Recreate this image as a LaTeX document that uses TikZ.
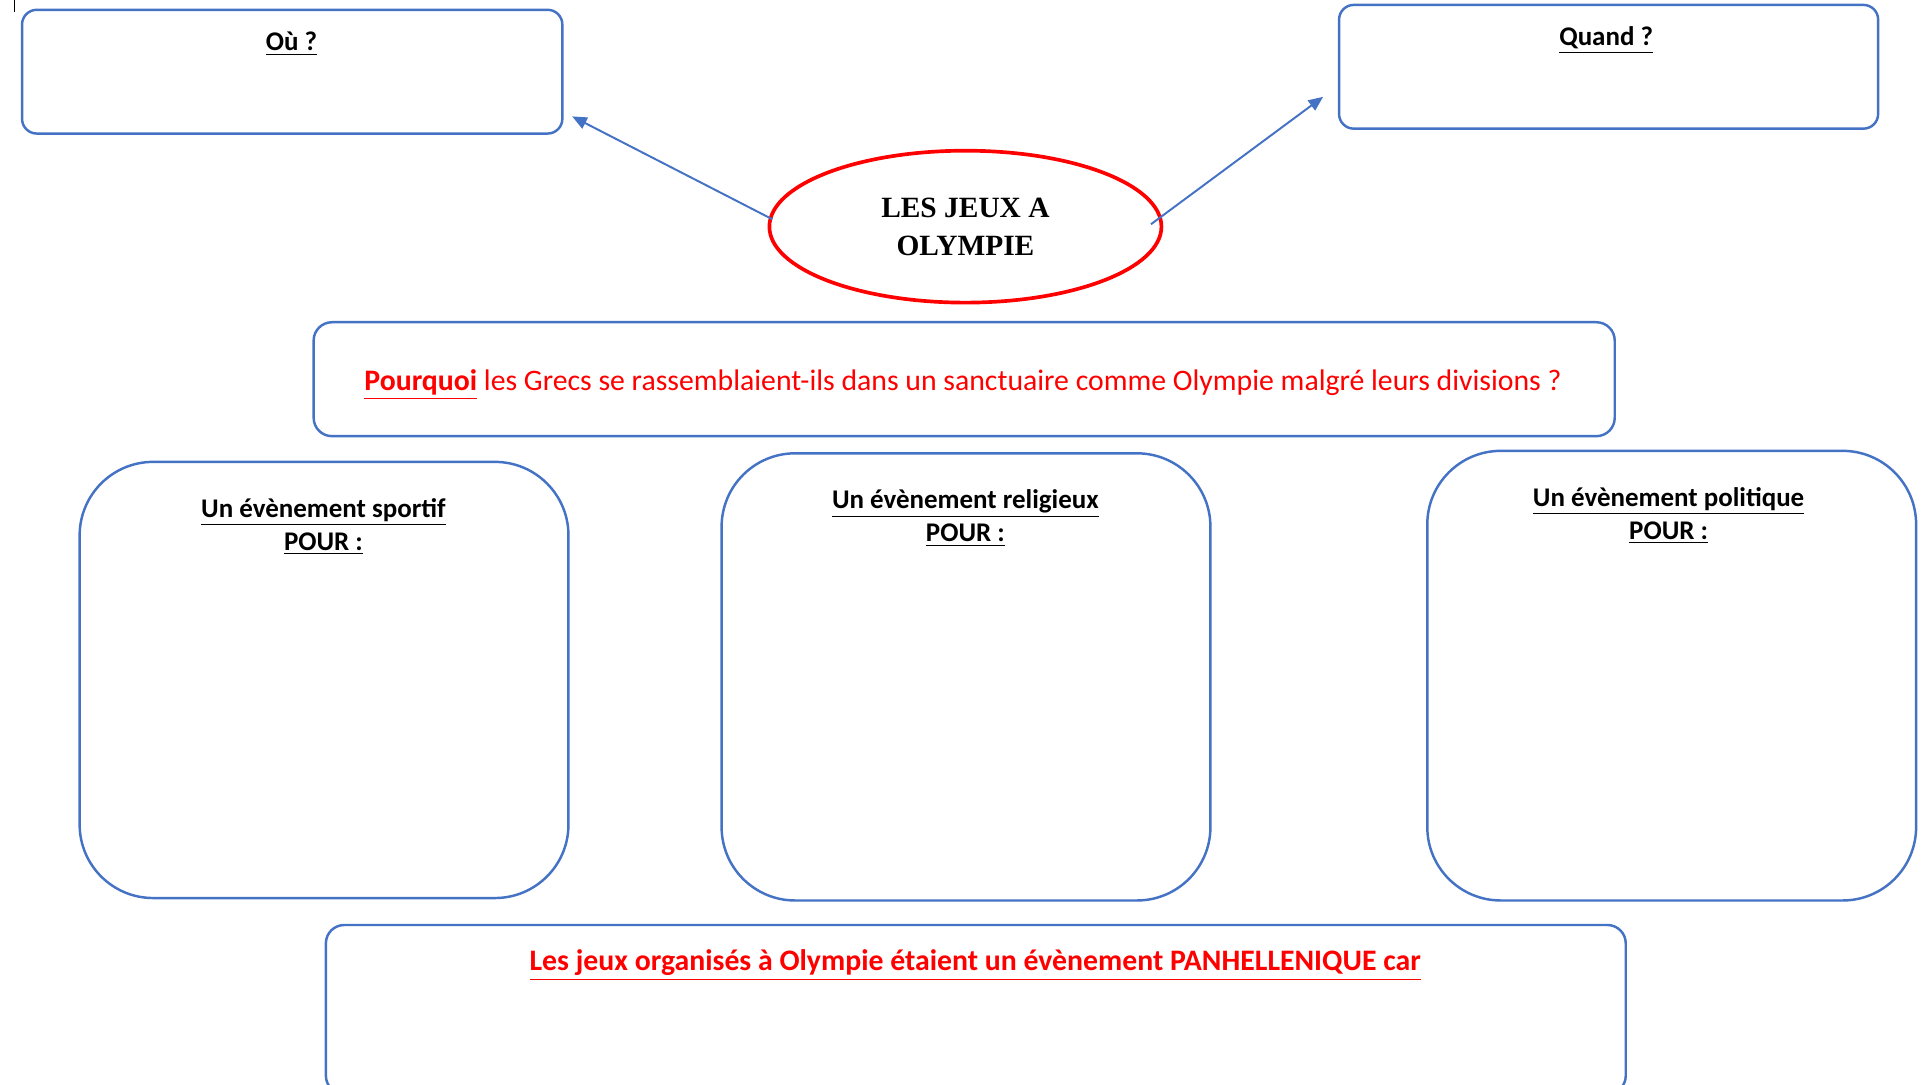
\documentclass[tikz,border=0pt]{standalone}
\usepackage{fontspec}
\setmainfont{Carlito}
\newfontfamily\tnr{Liberation Serif}
\usetikzlibrary{arrows.meta,shapes.geometric}
\definecolor{boxblue}{HTML}{4472C4}
\begin{document}
\begin{tikzpicture}[x=0.5pt,y=-0.5pt,
  box/.style={draw=boxblue,line width=1pt,rounded corners=6pt,inner sep=0pt},
  bigbox/.style={box,rounded corners=30pt,minimum width=199.5pt},
  head/.style={font=\bfseries\fontsize{11}{13.5}\selectfont,align=center,inner sep=0pt},
  redtext/.style={font=\fontsize{12.15}{14}\selectfont,text=red,inner sep=0pt},
  conn/.style={draw=boxblue,line width=0.8pt,-{Triangle[length=6pt,width=5pt]}}]
\path[use as bounding box] (0,0) rectangle (1568,885);
\clip (0,0) rectangle (1568,885);
\fill[white] (0,0) rectangle (1568,885);
% cursor mark
\coordinate (c1) at (12,0); \coordinate (c2) at (12,10);
\draw[line width=0.6pt] (c1) -- (c2);
% top boxes
\node[box,minimum width=220.5pt,minimum height=50.5pt] (ou) at (238.5,58.5) {};
\node[head] (out) at (238,36) {\underline{Où ?}};
\node[box,minimum width=220pt,minimum height=50.5pt] (quand) at (1313,54.5) {};
\node[head] (quandt) at (1311,33) {\underline{Quand ?}};
% central ellipse
\node[ellipse,draw=red,line width=1.5pt,minimum width=160pt,minimum height=62pt,inner sep=0pt,
      align=center,font=\tnr\bfseries\fontsize{12}{15.5}\selectfont] (jeux) at (788,185) {LES JEUX A\\OLYMPIE};
\coordinate (tl) at (467,95);
\coordinate (tr) at (1080,79);
\draw[conn] ([xshift=2pt,yshift=3pt]jeux.west) -- (tl);
\draw[conn] ([xshift=-5pt,yshift=1pt]jeux.east) -- (tr);
% question box
\node[box,rounded corners=7.5pt,minimum width=531pt,minimum height=46.5pt] (pq) at (787,309.5) {};
\node[redtext] (pqt) at (786,314)
  {\textbf{\underline{Pourquoi}} les Grecs se rassemblaient-ils dans un sanctuaire comme Olympie malgré leurs divisions ?};
% three boxes
\node[bigbox,minimum height=178pt] (sport) at (264.5,555) {};
\node[head] (sportt) at (264,430) {\underline{Un évènement sportif}\\\underline{POUR :}};
\node[bigbox,minimum height=182.5pt] (relig) at (788.5,552.5) {};
\node[head] (religt) at (788,423) {\underline{Un évènement religieux}\\\underline{POUR :}};
\node[bigbox,minimum height=183.5pt] (polit) at (1364.5,551.5) {};
\node[head] (politt) at (1362,421) {\underline{Un évènement politique}\\\underline{POUR :}};
% bottom box
\node[box,rounded corners=7.5pt,minimum width=530.5pt,minimum height=69pt] (pan) at (796.5,824) {};
\node[redtext,font=\bfseries\fontsize{12.15}{14}\selectfont] (pant) at (796,788) {\underline{Les jeux organisés à Olympie étaient un évènement PANHELLENIQUE car}};
\end{tikzpicture}
\end{document}
